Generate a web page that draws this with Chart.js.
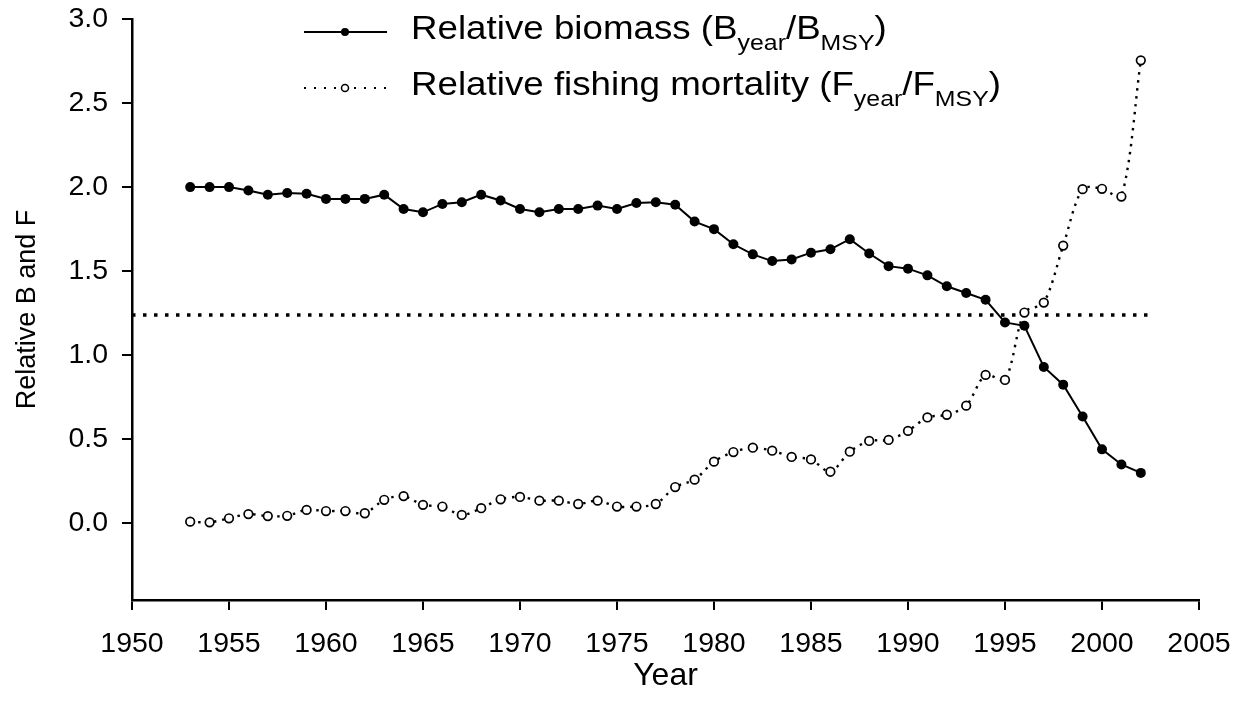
<!DOCTYPE html>
<html>
<head>
<meta charset="utf-8">
<script src="https://cdn.jsdelivr.net/npm/chart.js@4/dist/chart.umd.min.js"></script>
<style>
  html, body { margin: 0; padding: 0; background: #fff; }
</style>
</head>
<body>
<canvas id="myChart" width="1237" height="719"></canvas>
<script>
// stock assessment series, one value per year
const years = [
  1953, 1954, 1955, 1956, 1957, 1958, 1959, 1960, 1961, 1962,
  1963, 1964, 1965, 1966, 1967, 1968, 1969, 1970, 1971, 1972,
  1973, 1974, 1975, 1976, 1977, 1978, 1979, 1980, 1981, 1982,
  1983, 1984, 1985, 1986, 1987, 1988, 1989, 1990, 1991, 1992,
  1993, 1994, 1995, 1996, 1997, 1998, 1999, 2000, 2001, 2002
];

// B_year / B_MSY
const biomass = [
  2.00, 2.00, 2.00, 1.98, 1.955, 1.965, 1.96, 1.93, 1.93, 1.93,
  1.955, 1.87, 1.85, 1.90, 1.91, 1.955, 1.92, 1.87, 1.85, 1.87,
  1.87, 1.89, 1.87, 1.905, 1.91, 1.895, 1.795, 1.75, 1.66, 1.60,
  1.56, 1.57, 1.61, 1.63, 1.69, 1.605, 1.53, 1.515, 1.475, 1.41,
  1.37, 1.33, 1.195, 1.175, 0.93, 0.825, 0.635, 0.44, 0.35, 0.30
];

// F_year / F_MSY
const fishing = [
  0.01, 0.006, 0.03, 0.055, 0.043, 0.045, 0.08, 0.073, 0.073, 0.06,
  0.14, 0.162, 0.11, 0.10, 0.05, 0.09, 0.143, 0.157, 0.135, 0.135,
  0.115, 0.135, 0.10, 0.10, 0.115, 0.216, 0.26, 0.367, 0.424, 0.45,
  0.432, 0.395, 0.38, 0.307, 0.426, 0.49, 0.496, 0.55, 0.63, 0.646,
  0.70, 0.883, 0.853, 1.254, 1.313, 1.652, 1.988, 1.99, 1.944, 2.754
];

// horizontal reference level and its extent
const refLevel = 1.24;
const refYears = [1950, 2002.4];

const yTicks = [0, 0.5, 1.0, 1.5, 2.0, 2.5, 3.0];

const FONT = "Arial, 'Liberation Sans', sans-serif";

const toPoints = (xs, ys) => xs.map((x, i) => ({ x: x, y: ys[i] }));

// legend with subscripts, drawn on top of the chart
const richLegend = {
  id: "richLegend",
  afterDraw(chart) {
    const ctx = chart.ctx;
    const rows = [
      { y: 39, filled: true, dash: [],
        parts: [["Relative biomass (B", 0], ["year", 1], ["/B", 0], ["MSY", 1], [")", 0]] },
      { y: 95, filled: false, dash: [2, 8],
        parts: [["Relative fishing mortality (F", 0], ["year", 1], ["/F", 0], ["MSY", 1], [")", 0]] }
    ];
    ctx.save();
    ctx.fillStyle = "#000";
    ctx.strokeStyle = "#000";
    rows.forEach((row) => {
      const ly = row.y - 7;
      ctx.beginPath();
      ctx.setLineDash(row.dash);
      ctx.lineWidth = row.filled ? 2 : 2.2;
      ctx.moveTo(304, ly);
      ctx.lineTo(387, ly);
      ctx.stroke();
      ctx.setLineDash([]);
      ctx.beginPath();
      ctx.arc(345, ly, row.filled ? 4 : 3.5, 0, Math.PI * 2);
      if (row.filled) {
        ctx.fill();
      } else {
        ctx.fillStyle = "#fff";
        ctx.fill();
        ctx.lineWidth = 1.5;
        ctx.stroke();
        ctx.fillStyle = "#000";
      }

      // text is a touch wider than normal Arial
      ctx.save();
      ctx.translate(411, row.y);
      ctx.scale(1.13, 1);
      ctx.textBaseline = "alphabetic";
      let x = 0;
      row.parts.forEach(([t, sub]) => {
        ctx.font = (sub ? "22px " : "32.5px ") + FONT;
        ctx.fillText(t, x, sub ? 11 : 0);
        x += ctx.measureText(t).width;
      });
      ctx.restore();
    });
    ctx.restore();
  }
};

new Chart("myChart", {
  type: "line",
  data: {
    datasets: [
      {
        data: toPoints(years, fishing),
        borderColor: "#000",
        borderWidth: 2.4,
        borderDash: [2.4, 5.6],
        pointRadius: 4.3,
        pointBorderWidth: 1.7,
        pointBackgroundColor: "#fff",
        pointBorderColor: "#000",
        tension: 0.3,
        fill: false
      },
      {
        data: toPoints(years, biomass),
        borderColor: "#000",
        borderWidth: 2,
        pointRadius: 5,
        pointBorderWidth: 0,
        pointBackgroundColor: "#000",
        tension: 0,
        fill: false
      },
      {
        data: toPoints(refYears, [refLevel, refLevel]),
        borderColor: "#000",
        borderWidth: 3.5,
        borderDash: [3.5, 7.5],
        pointRadius: 0,
        fill: false
      }
    ]
  },
  options: {
    responsive: false,
    animation: false,
    devicePixelRatio: 1,
    layout: { padding: { left: 0, right: 38, top: 19, bottom: 0 } },
    plugins: {
      legend: { display: false },
      tooltip: { enabled: false }
    },
    scales: {
      x: {
        type: "linear",
        min: 1950,
        max: 2005,
        ticks: {
          stepSize: 5,
          color: "#000",
          font: { family: FONT, size: 28.5 },
          padding: 17,
          maxRotation: 0,
          callback: (v) => String(v)
        },
        grid: { drawOnChartArea: false, color: "#000", lineWidth: 2, tickLength: 10 },
        border: { color: "#000", width: 2.5 },
        title: {
          display: true,
          text: "Year",
          color: "#000",
          font: { family: FONT, size: 32 },
          padding: { top: 24, bottom: 24 }
        },
        afterFit: (scale) => {
          scale.height = 119;
          scale.paddingLeft = 0;
          scale.paddingRight = 0;
        }
      },
      y: {
        min: -0.456,
        max: 3.0,
        afterBuildTicks: (scale) => {
          scale.ticks = yTicks.map((v) => ({ value: v }));
        },
        ticks: {
          color: "#000",
          font: { family: FONT, size: 28.5 },
          padding: 14,
          callback: (v) => v.toFixed(1)
        },
        grid: { drawOnChartArea: false, color: "#000", lineWidth: 2, tickLength: 10 },
        border: { color: "#000", width: 2.5 },
        title: {
          display: true,
          text: "Relative B and F",
          color: "#000",
          font: { family: FONT, size: 27 },
          padding: { top: 11, bottom: 11 }
        },
        afterFit: (scale) => {
          scale.width = 132;
          scale.paddingTop = 0;
          scale.paddingBottom = 0;
        }
      }
    }
  },
  plugins: [richLegend]
});
</script>
</body>
</html>
